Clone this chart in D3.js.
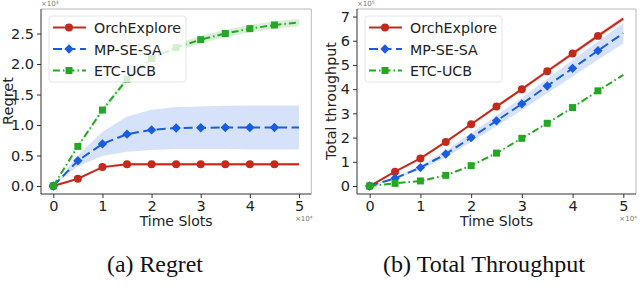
<!DOCTYPE html>
<html>
<head>
<meta charset="utf-8">
<script src="https://cdn.jsdelivr.net/npm/d3@7"></script>
<style>
  body { margin: 0; background: #fff; }
  svg { display: block; }
</style>
</head>
<body>
<script>
// time slots (x10^4)
const timeSlots = [0, 0.5, 1, 1.5, 2, 2.5, 3, 3.5, 4, 4.5, 5]
const seriesNames = ["OrchExplore", "MP-SE-SA", "ETC-UCB"]

// regret (x10^3)
const regretOrch = [0, 0.12, 0.31, 0.355, 0.355, 0.355, 0.355, 0.355, 0.355, 0.355, 0.355]
const regretOrchStd = [0, 0.01, 0.02, 0.025, 0.025, 0.025, 0.025, 0.025, 0.025, 0.025, 0.025]
const regretMp = [0, 0.415, 0.69, 0.85, 0.92, 0.95, 0.955, 0.96, 0.96, 0.96, 0.96]
const regretMpStd = [0, 0.09, 0.2, 0.29, 0.33, 0.345, 0.35, 0.355, 0.36, 0.36, 0.36]
const regretEtc = [0, 0.65, 1.245, 1.75, 2.09, 2.27, 2.40, 2.50, 2.58, 2.64, 2.68]
const regretEtcStd = [0, 0.02, 0.04, 0.05, 0.055, 0.06, 0.06, 0.06, 0.06, 0.06, 0.06]

// total throughput (x10^5)
const tputOrch = [0, 0.59, 1.14, 1.82, 2.55, 3.28, 4.0, 4.74, 5.47, 6.2, 6.91]
const tputOrchStd = [0, 0.02, 0.03, 0.04, 0.05, 0.06, 0.07, 0.08, 0.09, 0.1, 0.1]
const tputMp = [0, 0.32, 0.76, 1.32, 2.0, 2.69, 3.39, 4.13, 4.86, 5.59, 6.31]
const tputMpStd = [0, 0.04, 0.09, 0.14, 0.18, 0.22, 0.26, 0.3, 0.34, 0.38, 0.42]
const tputEtc = [0, 0.11, 0.21, 0.44, 0.84, 1.36, 1.97, 2.59, 3.24, 3.93, 4.59]
const tputEtcStd = [0, 0.01, 0.01, 0.01, 0.02, 0.02, 0.02, 0.02, 0.02, 0.02, 0.02]

const xTicks = [0, 1, 2, 3, 4, 5]
const regretTicks = [0, 0.5, 1.0, 1.5, 2.0, 2.5]
const tputTicks = [0, 1, 2, 3, 4, 5, 6, 7]

const colors = ["#c42a1c", "#1a5ce0", "#24a824"]
const dashes = [null, "9,4.5", "7,3,1.5,3"]
const markers = [d3.symbolCircle, d3.symbolSquare, d3.symbolSquare]
const markerSizes = [50, 44, 49]
const markerRot = [0, 45, 0]

const svg = d3.select("body").append("svg")
  .attr("width", 640)
  .attr("height", 304)
  .style("font-family", "'DejaVu Sans', sans-serif")

svg.append("rect").attr("width", 640).attr("height", 304).attr("fill", "#fff")

// size a text so that its width matches what the reference shows
function fitSize(sel, width) {
  sel.attr("font-size", 10)
  const len = sel.node().getComputedTextLength()
  const size = 10 * width / len
  sel.attr("font-size", size)
  return size
}

function drawPanel(opt) {
  const x = d3.scaleLinear().domain([-0.25, 5.25]).range([opt.left, opt.right])
  const y = d3.scaleLinear().domain(opt.yDomain).range([194, 9])
  const g = svg.append("g")

  // bands
  opt.series.forEach((s, k) => {
    const area = d3.area()
      .x((d, i) => x(timeSlots[i]))
      .y0((d, i) => y(d - s.std[i]))
      .y1((d, i) => y(d + s.std[i]))
    g.append("path")
      .attr("d", area(s.mean))
      .attr("fill", colors[k])
      .attr("opacity", 0.18)
  })

  // lines + markers
  opt.series.forEach((s, k) => {
    const line = d3.line().x((d, i) => x(timeSlots[i])).y(d => y(d))
    g.append("path")
      .attr("d", line(s.mean))
      .attr("fill", "none")
      .attr("stroke", colors[k])
      .attr("stroke-width", 2)
      .attr("stroke-dasharray", dashes[k])
    g.selectAll(".m" + k)
      .data(s.mean.slice(0, -1))
      .enter()
      .append("path")
      .attr("d", d3.symbol().type(markers[k]).size(markerSizes[k]))
      .attr("transform", (d, i) => "translate(" + x(timeSlots[i]) + "," + y(d) + ") rotate(" + markerRot[k] + ")")
      .attr("fill", colors[k])
  })

  // frame
  const x0 = opt.left, x1 = opt.right
  g.append("line").attr("x1", x0).attr("x2", x1).attr("y1", 9).attr("y2", 9).attr("stroke", "#aaa").attr("stroke-width", 0.8)
  g.append("line").attr("x1", x1).attr("x2", x1).attr("y1", 9).attr("y2", 194).attr("stroke", "#aaa").attr("stroke-width", 0.8)

  const xAxis = d3.axisBottom(x).tickValues(xTicks).tickFormat(d3.format("d")).tickSize(4).tickPadding(3)
  g.append("g")
    .attr("transform", "translate(0,194)")
    .call(xAxis)
    .call(a => a.select(".domain").attr("d", "M" + x0 + ",0H" + x1).attr("stroke", "#333"))
    .call(a => a.selectAll("text").attr("font-size", 14.5).attr("fill", "#222").style("font-family", "'DejaVu Sans', sans-serif"))
    .call(a => a.selectAll("line").attr("stroke", "#333"))

  const yAxis = d3.axisLeft(y).tickValues(opt.yTicks).tickFormat(opt.yFormat).tickSize(4).tickPadding(3)
  g.append("g")
    .attr("transform", "translate(" + x0 + ",0)")
    .call(yAxis)
    .call(a => a.select(".domain").attr("d", "M0,9V194").attr("stroke", "#333"))
    .call(a => a.selectAll("text").attr("font-size", 14.5).attr("fill", "#222").style("font-family", "'DejaVu Sans', sans-serif"))
    .call(a => a.selectAll("line").attr("stroke", "#333"))

  // axis titles
  const xt = g.append("text")
    .attr("x", (x(0) + x(5)) / 2)
    .attr("y", 226)
    .attr("text-anchor", "middle")
    .attr("fill", "#222")
    .text("Time Slots")
  fitSize(xt, 73)

  const yt = g.append("text")
    .attr("transform", "translate(" + opt.yLabelX + ",101) rotate(-90)")
    .attr("text-anchor", "middle")
    .attr("fill", "#222")
    .text(opt.yLabel)
  fitSize(yt, opt.yLabelW)

  // offset texts
  g.append("text").attr("x", x0).attr("y", 6).attr("font-size", 7).attr("fill", "#777").text(opt.yOffset)
  g.append("text").attr("x", x(5) - 4).attr("y", 221).attr("font-size", 7).attr("fill", "#777").text("×10⁴")

  // legend
  const lg = g.append("g").attr("transform", "translate(" + opt.legendX + ",16)")
  lg.append("rect")
    .attr("width", 137).attr("height", 66).attr("rx", 3)
    .attr("fill", "#fff").attr("fill-opacity", 0.8)
    .attr("stroke", "#ddd").attr("stroke-width", 0.8)
  let legendSize = 15
  seriesNames.forEach((name, k) => {
    const cy = 11.5 + k * 21.5
    lg.append("line")
      .attr("x1", 4).attr("x2", 37).attr("y1", cy).attr("y2", cy)
      .attr("stroke", colors[k]).attr("stroke-width", 2)
      .attr("stroke-dasharray", dashes[k])
    lg.append("path")
      .attr("d", d3.symbol().type(markers[k]).size(markerSizes[k]))
      .attr("transform", "translate(20," + cy + ") rotate(" + markerRot[k] + ")")
      .attr("fill", colors[k])
    const t = lg.append("text")
      .attr("x", opt.legendTextX).attr("y", cy + 5.5)
      .attr("fill", "#222")
      .text(name)
    if (k === 0) legendSize = fitSize(t, 87)
    else t.attr("font-size", legendSize)
  })

  // caption
  const cap = svg.append("text")
    .attr("x", opt.captionX)
    .attr("y", 272)
    .attr("text-anchor", "middle")
    .style("font-family", "'Liberation Serif', 'Times New Roman', serif")
    .attr("fill", "#111")
    .text(opt.caption)
  fitSize(cap, opt.captionW)
}

drawPanel({
  left: 41, right: 311.3,
  yDomain: [-0.131, 2.902],
  yTicks: regretTicks,
  yFormat: d3.format(".1f"),
  yLabel: "Regret", yLabelX: 13, yLabelW: 48,
  yOffset: "×10³",
  legendX: 49, legendTextX: 45,
  caption: "(a) Regret", captionX: 155, captionW: 96,
  series: [
    { mean: regretOrch, std: regretOrchStd },
    { mean: regretMp, std: regretMpStd },
    { mean: regretEtc, std: regretEtcStd }
  ]
})

drawPanel({
  left: 357, right: 636,
  yDomain: [-0.33, 7.31],
  yTicks: tputTicks,
  yFormat: d3.format("d"),
  yLabel: "Total throughput", yLabelX: 336, yLabelW: 118,
  yOffset: "×10⁵",
  legendX: 365, legendTextX: 45,
  caption: "(b) Total Throughput", captionX: 484, captionW: 202,
  series: [
    { mean: tputOrch, std: tputOrchStd },
    { mean: tputMp, std: tputMpStd },
    { mean: tputEtc, std: tputEtcStd }
  ]
})
</script>
</body>
</html>
